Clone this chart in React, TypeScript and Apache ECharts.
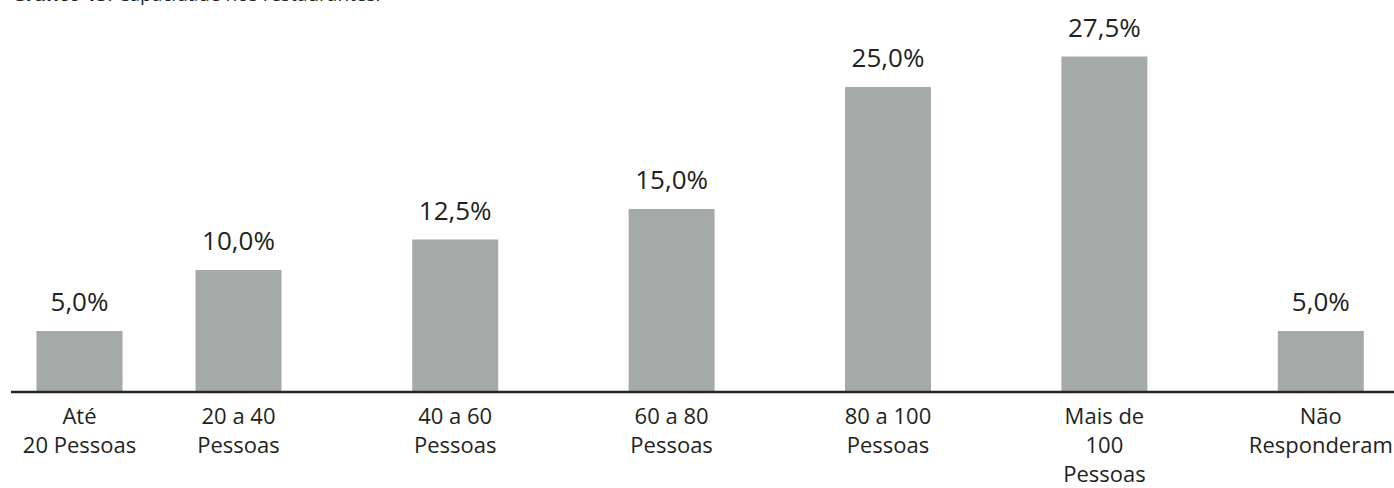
import React, { useEffect, useRef } from "react";
import * as echarts from "echarts";

const categories = [
  "Até\n20 Pessoas",
  "20 a 40\nPessoas",
  "40 a 60\nPessoas",
  "60 a 80\nPessoas",
  "80 a 100\nPessoas",
  "Mais de\n100\nPessoas",
  "Não\nResponderam",
];
const values = [5.0, 10.0, 12.5, 15.0, 25.0, 27.5, 5.0];
const titleBold = "Gráfico 13:";
const titleRest = " Capacidade nos restaurantes.";

const FONT = "'Open Sans', 'Noto Sans', sans-serif";
const BAR = "#a3aaa7";
const TXT = "#231f20";

export default function App() {
  const ref = useRef<HTMLDivElement>(null);
  useEffect(() => {
    document.body.style.margin = "0";
    document.body.style.overflow = "hidden";
    const chart = echarts.init(ref.current!, null, { renderer: "svg" });
    const splitAt = 2;
    const groups = [
      { cats: categories.slice(0, splitAt), vals: values.slice(0, splitAt) },
      { cats: categories.slice(splitAt), vals: values.slice(splitAt) },
    ];
    const grids = [
      { left: 0, width: 318, top: 26, bottom: 96 },
      { left: 347, width: 1082, top: 26, bottom: 96 },
    ];
    const fmt = (v: number) => v.toFixed(1).replace(".", ",") + "%";
    chart.setOption({
      animation: false,
      grid: grids,
      xAxis: groups.map((g, i) => ({
        type: "category",
        gridIndex: i,
        data: g.cats,
        axisLine: { show: false },
        axisTick: { show: false },
        axisLabel: {
          interval: 0,
          margin: 8,
          color: TXT,
          fontFamily: FONT,
          fontSize: 22,
          lineHeight: 29,
          align: "center",
        },
      })),
      yAxis: groups.map((g, i) => ({
        type: "value",
        gridIndex: i,
        min: 0,
        max: 30,
        show: false,
        splitLine: { show: false },
      })),
      series: groups.map((g, i) => ({
        type: "bar",
        xAxisIndex: i,
        yAxisIndex: i,
        data: g.vals,
        barWidth: 86,
        itemStyle: { color: BAR },
        label: {
          show: true,
          position: "top",
          distance: 17,
          color: TXT,
          fontFamily: FONT,
          fontSize: 26,
          formatter: (p: any) => fmt(p.value),
        },
      })),
      graphic: [
        {
          type: "line",
          shape: { x1: 11, y1: 392, x2: 1440, y2: 392 },
          style: { stroke: "#262626", lineWidth: 2.5 },
          z: 10,
        },
        {
          type: "text",
          x: 12,
          y: -6,
          style: {
            text: `{b|${titleBold}}{r|${titleRest}}`,
            verticalAlign: "middle",
            rich: {
              b: { fontFamily: FONT, fontSize: 19, fontWeight: "bold", fill: TXT },
              r: { fontFamily: FONT, fontSize: 19, fill: TXT },
            },
          },
        },
      ],
    });
    return () => chart.dispose();
  }, []);
  return (
    <div style={{ width: 1394, height: 488, overflow: "hidden", position: "relative" }}>
      <div ref={ref} style={{ width: 1440, height: 488 }} />
    </div>
  );
}
